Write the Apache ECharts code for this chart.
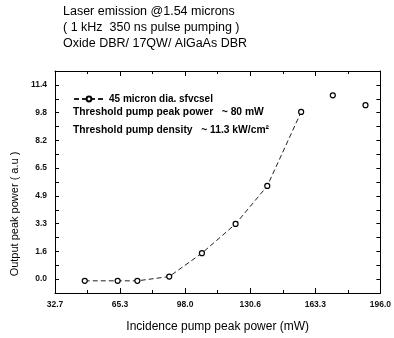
<!DOCTYPE html>
<html>
<head>
<meta charset="utf-8">
<script src="https://cdn.jsdelivr.net/npm/echarts@6/dist/echarts.min.js"></script>
<style>html,body{margin:0;padding:0;background:#fff}#c{width:394px;height:338px}</style>
</head>
<body>
<div id="c"></div>
<script>
// Data
var pumpPower = [47.6, 64.1, 74.0, 90.0, 106.4, 123.3, 139.2, 156.2, 172.1, 188.5];
var outputPower = [-0.1, -0.1, -0.1, 0.15, 1.53, 3.25, 5.49, 9.85, 10.83, 10.25];
var connectedCount = 8;
var xTickLabels = ['32.7', '65.3', '98.0', '130.6', '163.3', '196.0'];
var yTickLabels = ['0.0', '1.6', '3.3', '4.9', '6.5', '8.2', '9.8', '11.4'];
var titleLines = ['Laser emission @1.54 microns', '( 1 kHz  350 ns pulse pumping )', 'Oxide DBR/ 17QW/ AlGaAs DBR'];
var seriesName = '45 micron dia. sfvcsel';
var noteLines = ['Threshold pump peak power   ~ 80 mW', 'Threshold pump density   ~ 11.3 kW/cm\u00B2'];

var xStep = 32.66, yHalf = 0.8175;
var FONT = 'Liberation Sans';

var pts = pumpPower.map(function (x, i) { return [x, outputPower[i]]; });

var chart = echarts.init(document.getElementById('c'), null, {renderer: 'canvas'});

function xAxisBase(pos, labels) {
  return {
    type: 'value', position: pos, min: xStep, max: 6 * xStep, interval: xStep,
    axisLine: {show: true, onZero: false, lineStyle: {color: '#000', width: 1}},
    axisTick: {show: true, inside: true, length: 5, lineStyle: {color: '#000'}},
    minorTick: {show: true, splitNumber: 2, length: 3, lineStyle: {color: '#000'}},
    splitLine: {show: false}, minorSplitLine: {show: false},
    axisLabel: labels ? {
      show: true, fontFamily: FONT, fontSize: 8.5, fontWeight: 'bold', color: '#111', margin: 7,
      formatter: function (v) { var k = Math.round(v / xStep) - 1; return xTickLabels[k] || ''; }
    } : {show: false}
  };
}
function yAxisBase(pos, labels) {
  return {
    type: 'value', position: pos, min: -yHalf, max: 15 * yHalf, interval: yHalf,
    axisLine: {show: true, onZero: false, lineStyle: {color: '#000', width: 1}},
    axisTick: {show: true, inside: true, length: 4, lineStyle: {color: '#000'}},
    splitLine: {show: false},
    axisLabel: labels ? {
      show: true, fontFamily: FONT, fontSize: 8.5, fontWeight: 'bold', color: '#111', margin: 8,
      formatter: function (v) {
        var k = Math.round(v / yHalf);
        if (k < 0 || k % 2 !== 0) return '';
        return yTickLabels[k / 2] || '';
      }
    } : {show: false}
  };
}

var xa = xAxisBase('bottom', true);
xa.name = 'Incidence pump peak power (mW)';
xa.nameLocation = 'middle';
xa.nameGap = 28;
xa.nameTextStyle = {fontFamily: FONT, fontSize: 12, color: '#000'};
var ya = yAxisBase('left', true);
ya.name = 'Output peak power ( a.u )';
ya.nameLocation = 'middle';
ya.nameGap = 35;
ya.nameTextStyle = {fontFamily: FONT, fontSize: 11, color: '#000', padding: [0, 64, 0, 0]};

chart.setOption({
  animation: false,
  backgroundColor: '#fff',
  title: {
    text: titleLines.join('\n'), left: 63, top: 4, padding: 0,
    textStyle: {fontFamily: FONT, fontSize: 12.5, fontWeight: 'normal', color: '#000', lineHeight: 16}
  },
  grid: {left: 55, right: 10, top: 71, bottom: 39, containLabel: false},
  legend: {
    data: [seriesName], left: 68, top: 89, itemWidth: 30, itemHeight: 6, itemGap: 4,
    textStyle: {fontFamily: FONT, fontSize: 10, fontWeight: 'bold', color: '#000'}
  },
  xAxis: [xa, xAxisBase('top', false)],
  yAxis: [ya, yAxisBase('right', false)],
  graphic: noteLines.map(function (t, i) {
    return {
      type: 'text', left: 73, top: 107 + i * 18,
      style: {text: t, fontFamily: FONT, fontSize: 10.3, fontWeight: 'bold', fill: '#000'}
    };
  }),
  series: [
    {
      name: seriesName, type: 'line', data: pts.slice(0, connectedCount),
      symbol: 'circle', symbolSize: 5, showSymbol: true,
      lineStyle: {color: '#222', width: 1, type: [5, 3]},
      itemStyle: {color: '#fff', borderColor: '#000', borderWidth: 1.2}
    },
    {
      name: seriesName, type: 'line', data: pts.slice(connectedCount),
      symbol: 'circle', symbolSize: 5, showSymbol: true,
      lineStyle: {width: 0, opacity: 0},
      itemStyle: {color: '#fff', borderColor: '#000', borderWidth: 1.2}
    }
  ]
});
</script>
</body>
</html>
